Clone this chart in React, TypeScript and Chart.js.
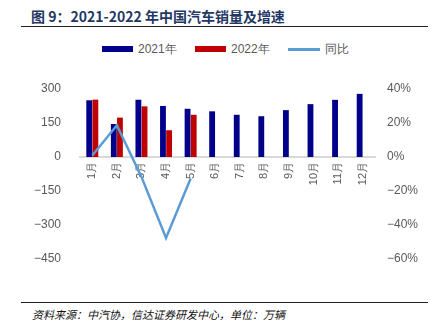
import React, { useEffect, useRef } from "react";
import { Chart, registerables } from "chart.js";

Chart.register(...registerables);

const categories = ["1月", "2月", "3月", "4月", "5月", "6月", "7月", "8月", "9月", "10月", "11月", "12月"];
const sales2021 = [250.3, 145.5, 252.6, 225.2, 212.8, 201.5, 186.4, 179.9, 206.7, 233.2, 252.2, 278.6];
const sales2022 = [253.1, 173.7, 223.4, 118.1, 186.2, null, null, null, null, null, null, null];
const yoy = [0.009, 0.187, -0.117, -0.476, -0.126, null, null, null, null, null, null, null];
const leftTicks = [-450, -300, -150, 0, 150, 300];
const rightTicks = [-0.6, -0.4, -0.2, 0, 0.2, 0.4];

const BLUE = "#00008b";
const RED = "#c00000";
const LINE = "#5b9bd5";
const TICK = "#595959";
const FONT = "'Liberation Sans', Arial, sans-serif";

export default function App() {
  const ref = useRef<HTMLCanvasElement | null>(null);
  useEffect(() => {
    if (!ref.current) return;
    const chart = new Chart(ref.current, {
      data: {
        labels: categories,
        datasets: [
          { type: "bar", label: "2021年", data: sales2021, backgroundColor: BLUE, yAxisID: "y", categoryPercentage: 0.5, barPercentage: 0.95, order: 2 },
          { type: "bar", label: "2022年", data: sales2022 as any, backgroundColor: RED, yAxisID: "y", categoryPercentage: 0.5, barPercentage: 0.95, order: 2 },
          { type: "line", label: "同比", data: yoy as any, borderColor: LINE, backgroundColor: LINE, borderWidth: 2.5, pointRadius: 0, yAxisID: "y1", spanGaps: false, order: 1 },
        ],
      } as any,
      options: {
        animation: false,
        responsive: false,
        maintainAspectRatio: false,
        layout: { padding: { top: 29, bottom: 31, left: 0, right: 0 } },
        plugins: { legend: { display: false }, tooltip: { enabled: false } },
        scales: {
          x: {
            position: { y: 0 } as any,
            grid: { display: false, drawTicks: false },
            border: { display: true, color: "#d9d9d9", width: 2 },
            ticks: { color: TICK, font: { family: FONT, size: 11 }, minRotation: 90, maxRotation: 90, padding: 5, autoSkip: false },
          },
          y: {
            position: "left",
            min: -450,
            max: 300,
            afterBuildTicks: (s: any) => { s.ticks = leftTicks.map((v) => ({ value: v })); },
            afterFit: (s: any) => { s.width = 80; },
            grid: { display: false, drawTicks: false },
            border: { display: false },
            ticks: { color: TICK, font: { family: FONT, size: 12 }, padding: 19, callback: (v: any) => String(v).replace("-", "\u2212") },
          },
          y1: {
            position: "right",
            min: -0.6,
            max: 0.4,
            afterBuildTicks: (s: any) => { s.ticks = rightTicks.map((v) => ({ value: v })); },
            afterFit: (s: any) => { s.width = 60; },
            grid: { display: false, drawTicks: false },
            border: { display: false },
            ticks: { color: TICK, font: { family: FONT, size: 12 }, padding: 12, callback: (v: any) => (Math.round(Number(v) * 100) + "%").replace("-", "\u2212") },
          },
        },
      } as any,
    });
    return () => chart.destroy();
  }, []);

  const legendItem = (swatch: React.ReactNode, text: string, left: number) => (
    <div style={{ position: "absolute", left, top: 41, height: 16, display: "flex", alignItems: "center", whiteSpace: "nowrap" }}>
      {swatch}
      <span style={{ marginLeft: 5, color: TICK, fontSize: 12, fontFamily: FONT }}>{text}</span>
    </div>
  );

  return (
    <div style={{ position: "fixed", left: 0, top: 0, width: 435, height: 326, background: "#fff", overflow: "hidden" }}>
      <div style={{ position: "absolute", left: 31, top: 7, fontFamily: "'Noto Sans CJK SC', sans-serif", fontWeight: 700, fontSize: 14, color: "#1f3864", whiteSpace: "nowrap", lineHeight: "18px" }}>
        图 9：2021-2022 年中国汽车销量及增速
      </div>
      <div style={{ position: "absolute", left: 21, top: 26, width: 407, height: 1, background: "#222" }} />
      {legendItem(<div style={{ width: 31, height: 6, background: BLUE }} />, "2021年", 102)}
      {legendItem(<div style={{ width: 31, height: 6, background: RED }} />, "2022年", 195)}
      {legendItem(<div style={{ width: 32, height: 3, background: LINE }} />, "同比", 288)}
      <canvas ref={ref} width={435} height={230} style={{ position: "absolute", left: 0, top: 60, width: 435, height: 230 }} />
      <div style={{ position: "absolute", left: 21, top: 302, width: 407, height: 1, background: "#222" }} />
      <div style={{ position: "absolute", left: 32, top: 306, fontFamily: "'Noto Sans CJK SC', sans-serif", fontStyle: "italic", fontSize: 11, color: "#111", whiteSpace: "nowrap", lineHeight: "16px" }}>
        资料来源：中汽协，信达证券研发中心，单位：万辆
      </div>
    </div>
  );
}
